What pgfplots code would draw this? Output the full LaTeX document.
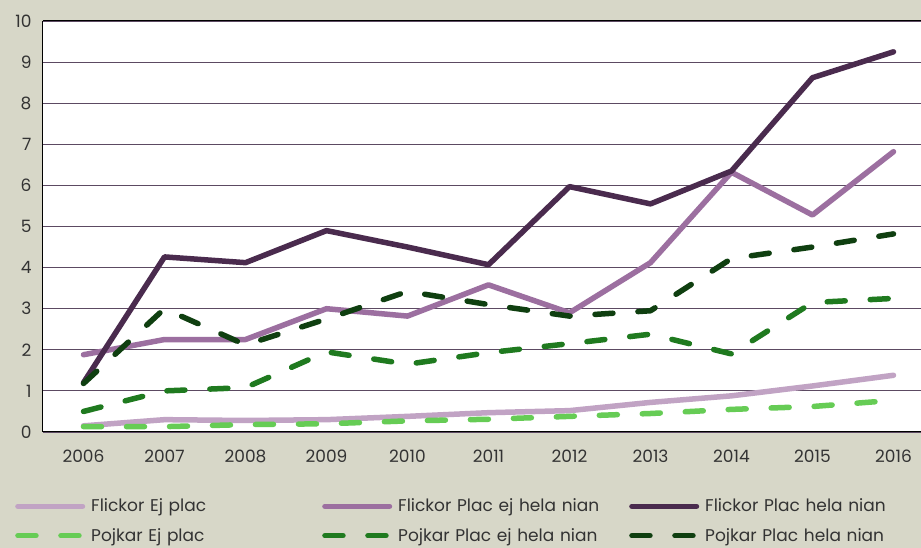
\documentclass[border=0pt]{standalone}
\usepackage{pgfplots}
\pgfplotsset{compat=1.18}
\usepackage{fontspec}
\setmainfont{Poppins}
\definecolor{bg}{RGB}{215,215,200}
\definecolor{fej}{RGB}{193,163,196}
\definecolor{fpe}{RGB}{156,111,160}
\definecolor{fph}{RGB}{74,43,78}
\definecolor{pej}{RGB}{102,204,85}
\definecolor{ppe}{RGB}{31,122,31}
\definecolor{pph}{RGB}{15,63,16}
\definecolor{gridc}{RGB}{92,74,98}
\begin{document}
\begin{tikzpicture}
\path[use as bounding box, fill=bg] (0,0) rectangle (921pt,548pt);
\clip (0,0) rectangle (921pt,548pt);
\begin{axis}[
  at={(43pt,116pt)}, anchor=south west,
  scale only axis, width=891pt, height=411pt,
  xmin=-0.5, xmax=10.5, ymin=0, ymax=10,
  axis background/.style={fill=white},
  separate axis lines,
  axis x line*=bottom, axis y line*=left,
  axis line style={black, line width=1pt, -},
  xtick={0,...,10},
  xticklabels={2006,2007,2008,2009,2010,2011,2012,2013,2014,2015,2016},
  minor xtick={-0.5,0.5,...,10.5},
  x tick style={draw=none},
  minor x tick style={black, line width=0.8pt},
  tick align=inside,
  minor tick length=7pt,
  ytick={0,...,10},
  y tick style={draw=none},
  ymajorgrids,
  grid style={gridc, line width=0.8pt},
  extra y ticks={10}, extra y tick labels={},
  extra y tick style={grid style={black, line width=1pt}},
  tick label style={font=\fontsize{17}{17}\selectfont, text=black!80},
  /pgf/number format/assume math mode=true,
  xticklabel style={yshift=-14pt},
  yticklabel style={xshift=-8pt},
  legend columns=3,
  legend style={draw=none, fill=none, inner sep=0pt, anchor=west,
    at={(axis description cs:-0.0314,-0.2165)},
    column sep=6pt, row sep=15pt,
    nodes={text width=225pt, align=left, inner xsep=0pt, inner ysep=0pt,
      font=\fontsize{17}{17}\selectfont, text=black!80}},
  legend image code/.code={\draw[#1] (2.75pt,0pt) -- (67.25pt,0pt);},
  every axis plot/.append style={line width=5.5pt, line cap=round, line join=round},
]
\addplot[fej] coordinates {(0,0.15)(1,0.30)(2,0.28)(3,0.30)(4,0.38)(5,0.47)(6,0.52)(7,0.72)(8,0.88)(9,1.12)(10,1.38)};
\addlegendentry{Flickor Ej plac}
\addplot[fpe] coordinates {(0,1.88)(1,2.25)(2,2.25)(3,3.0)(4,2.82)(5,3.58)(6,2.9)(7,4.12)(8,6.32)(9,5.28)(10,6.82)};
\addlegendentry{Flickor Plac ej hela nian}
\addplot[fph] coordinates {(0,1.2)(1,4.26)(2,4.12)(3,4.9)(4,4.5)(5,4.07)(6,5.97)(7,5.55)(8,6.35)(9,8.62)(10,9.25)};
\addlegendentry{Flickor Plac hela nian}
\addplot[pej, dash pattern=on 18pt off 25pt] coordinates {(0,0.13)(1,0.13)(2,0.18)(3,0.2)(4,0.27)(5,0.31)(6,0.38)(7,0.45)(8,0.55)(9,0.62)(10,0.77)};
\addlegendentry{Pojkar Ej plac}
\addplot[ppe, dash pattern=on 18pt off 25pt] coordinates {(0,0.5)(1,1.0)(2,1.08)(3,1.95)(4,1.65)(5,1.93)(6,2.15)(7,2.38)(8,1.9)(9,3.15)(10,3.25)};
\addlegendentry{Pojkar Plac ej hela nian}
\addplot[pph, dash pattern=on 18pt off 25pt] coordinates {(0,1.18)(1,3.0)(2,2.12)(3,2.75)(4,3.42)(5,3.1)(6,2.82)(7,2.95)(8,4.22)(9,4.5)(10,4.82)};
\addlegendentry{Pojkar Plac hela nian}
\end{axis}
\end{tikzpicture}
\end{document}
